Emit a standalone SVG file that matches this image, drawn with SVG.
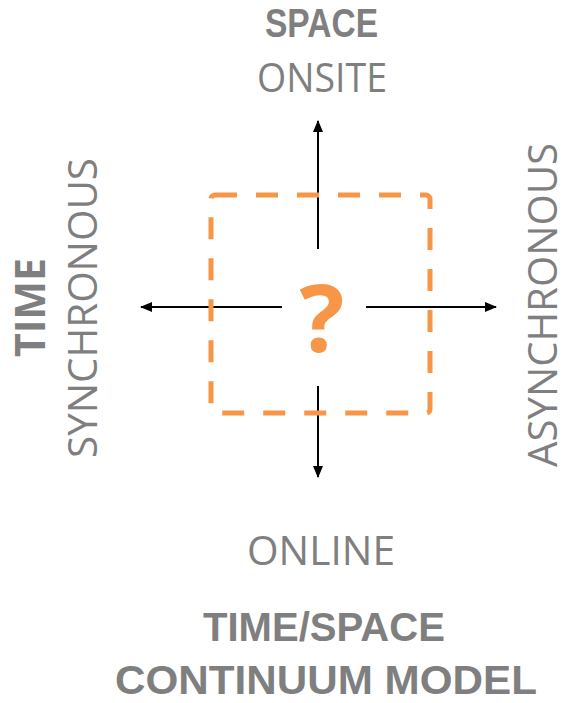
<svg xmlns="http://www.w3.org/2000/svg" width="572" height="703" viewBox="0 0 572 703">
<style>
.t{font-family:"Open Sans","Liberation Sans",sans-serif;fill:#7f7f7f;}
.b{font-weight:bold;}
.lb{font-family:"Liberation Sans",Arial,sans-serif;font-weight:bold;fill:#7f7f7f;}
.ln{stroke:#000;stroke-width:2;fill:none;}
</style>
<defs>
<marker id="ah" markerWidth="12" markerHeight="10" refX="11" refY="5" orient="auto" markerUnits="userSpaceOnUse">
<path d="M0,0 L12,5 L0,10 Z" fill="#000"/>
</marker>
</defs>
<rect width="572" height="703" fill="#fff"/>
<g id="connectors">
<line class="ln" x1="318" y1="249" x2="318" y2="121" marker-end="url(#ah)"/>
<line class="ln" x1="318" y1="386" x2="318" y2="477" marker-end="url(#ah)"/>
<line class="ln" x1="282" y1="307" x2="141" y2="307" marker-end="url(#ah)"/>
<line class="ln" x1="366" y1="307" x2="496" y2="307" marker-end="url(#ah)"/>
</g>
<g id="box">
<rect x="211" y="195" width="219" height="218" rx="4" fill="none" stroke="#f79646" stroke-width="5" stroke-dasharray="22,19"/>
<text x="322" y="352" text-anchor="middle" font-family="Open Sans, Liberation Sans, sans-serif" font-weight="bold" font-size="94" fill="#f79646">?</text>
</g>
<g id="space">
<text class="lb" x="321.5" y="37" text-anchor="middle" font-size="40" textLength="113" lengthAdjust="spacingAndGlyphs">SPACE</text>
<text class="t" x="322" y="92" text-anchor="middle" font-size="41" textLength="130" lengthAdjust="spacingAndGlyphs">ONSITE</text>
</g>
<g id="online">
<text class="t" x="321" y="565" text-anchor="middle" font-size="41" textLength="148" lengthAdjust="spacingAndGlyphs">ONLINE</text>
</g>
<g id="time">
<text class="t b" transform="translate(45,307.5) rotate(-90)" text-anchor="middle" font-size="41" textLength="99" lengthAdjust="spacingAndGlyphs">TIME</text>
<text class="t" transform="translate(97,308) rotate(-90)" text-anchor="middle" font-size="41" textLength="300" lengthAdjust="spacingAndGlyphs">SYNCHRONOUS</text>
</g>
<g id="asynchronous">
<text class="t" transform="translate(557,305) rotate(-90)" text-anchor="middle" font-size="41" textLength="324" lengthAdjust="spacingAndGlyphs">ASYNCHRONOUS</text>
</g>
<g id="title">
<text class="lb" x="324" y="641" text-anchor="middle" font-size="40" textLength="242" lengthAdjust="spacingAndGlyphs">TIME/SPACE</text>
<text class="lb" x="326" y="694" text-anchor="middle" font-size="40" textLength="422" lengthAdjust="spacingAndGlyphs">CONTINUUM MODEL</text>
</g>
</svg>
